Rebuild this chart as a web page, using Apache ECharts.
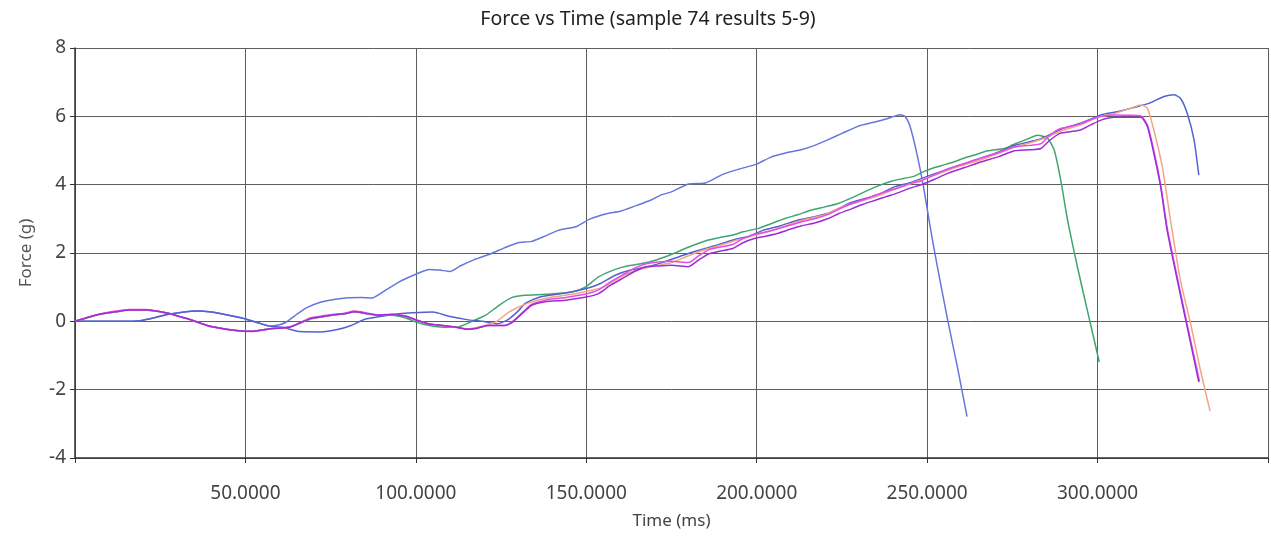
<!DOCTYPE html>
<html>
<head>
<meta charset="utf-8">
<script src="https://cdn.jsdelivr.net/npm/echarts@6/dist/echarts.min.js"></script>
<style>html,body{margin:0;padding:0;background:#fff;}#c{width:1271px;height:536px;}</style>
</head>
<body>
<div id="c"></div>
<script>
const titleText = 'Force vs Time (sample 74 results 5-9)';
const xName = 'Time (ms)';
const yName = 'Force (g)';
const xTicks = [0, 350, 50];
const yTicks = [-4, 8, 2];

const blueA = [[0,0],[5,0],[10,0],[15,0],[19,0.02],[23,0.1],[27,0.2],[31,0.26],[36,0.3],[40,0.27],[44,0.2],[49,0.1],[53,-0.02],[57,-0.14],[60,-0.1],[62,-0.02],[65,0.2],[68,0.4],[72,0.56],[76,0.64],[80,0.69],[84,0.7],[87,0.68],[90,0.84],[95,1.15],[100,1.38],[104,1.52],[107,1.5],[110,1.46],[113,1.62],[117,1.8],[122,1.98],[126,2.15],[130,2.3],[134,2.34],[138,2.5],[142,2.67],[147,2.77],[151,2.99],[156,3.15],[160,3.22],[165,3.4],[169,3.55],[172,3.7],[175,3.79],[180,4.02],[185,4.05],[190,4.3],[195,4.46],[200,4.6],[204,4.8],[209,4.94],[213,5.02],[217,5.15],[221,5.32],[225,5.5],[230,5.72],[234,5.82],[238,5.92],[242,6.05],[243.5,6.0],[245,5.7],[247,4.9],[249,3.9],[251,2.7],[253,1.6],[256,0.05],[259,-1.4],[261.7,-2.79]];

const green = [[0,0],[4,0.12],[8,0.22],[12,0.28],[16,0.33],[21,0.33],[25,0.28],[28,0.22],[31,0.13],[34,0.05],[37,-0.06],[40,-0.15],[45,-0.24],[49,-0.28],[52,-0.29],[55,-0.25],[58,-0.21],[63,-0.17],[66,-0.05],[69,0.06],[72,0.12],[75,0.17],[79,0.22],[82,0.27],[86,0.22],[89,0.17],[93,0.18],[97,0.1],[100,-0.02],[104,-0.12],[108,-0.17],[112,-0.17],[116.5,0.0],[120.5,0.18],[124.4,0.47],[128.3,0.7],[132,0.76],[138,0.79],[145.8,0.86],[149.7,1.0],[153.6,1.3],[158.5,1.52],[162,1.62],[166.3,1.69],[170,1.78],[173.2,1.89],[176,2.0],[179,2.13],[182,2.25],[185.8,2.38],[189,2.45],[192.7,2.52],[196,2.62],[200.5,2.72],[204,2.85],[208.3,3.01],[212,3.12],[216.1,3.26],[220,3.35],[223.9,3.45],[228,3.62],[232.7,3.84],[236,3.98],[239.5,4.1],[243,4.18],[246.3,4.25],[249,4.38],[252.2,4.5],[255,4.58],[258,4.67],[261,4.78],[263.9,4.87],[267.8,4.99],[272.7,5.06],[275,5.16],[277.5,5.26],[280,5.36],[282.4,5.45],[285.3,5.36],[287.3,5.01],[289.2,4.13],[291.2,2.96],[294.1,1.59],[297,0.32],[300.5,-1.19]];

const blueB = [[0,0],[5,0],[10,0],[15,0],[19,0.02],[23,0.1],[27,0.2],[31,0.26],[36,0.3],[40,0.27],[44,0.2],[49,0.1],[53,-0.02],[57,-0.14],[61,-0.18],[66,-0.3],[72,-0.31],[77,-0.24],[81,-0.12],[85,0.06],[90,0.15],[95,0.22],[99,0.25],[105,0.27],[110,0.14],[115,0.05],[119.5,0],[124,-0.07],[127,0.05],[130,0.3],[132,0.52],[136,0.7],[142,0.8],[147,0.89],[150,0.96],[154,1.1],[158.5,1.35],[163,1.5],[168,1.6],[173,1.74],[178,1.92],[183,2.08],[188,2.22],[193,2.38],[198,2.5],[202,2.67],[207,2.8],[212,2.96],[217,3.06],[222,3.2],[227,3.45],[232,3.6],[236,3.72],[240,3.92],[245,4.06],[251,4.28],[257,4.48],[264,4.72],[270,4.92],[276,5.16],[283,5.33],[290,5.65],[295,5.8],[301,6.04],[305,6.12],[310,6.24],[315,6.38],[319.5,6.58],[322.4,6.63],[324.3,6.53],[326.3,6.09],[328.3,5.31],[329.7,4.28]];

const orange = [[0,0],[4,0.12],[8,0.22],[12,0.28],[16,0.33],[21,0.33],[25,0.28],[28,0.22],[31,0.13],[34,0.05],[37,-0.06],[40,-0.15],[45,-0.24],[49,-0.28],[52,-0.29],[55,-0.25],[58,-0.21],[63,-0.17],[66,-0.05],[69,0.08],[72,0.13],[75,0.18],[79,0.22],[82,0.28],[86,0.22],[89,0.18],[93,0.2],[97,0.15],[100,0.04],[104,-0.08],[108,-0.12],[112,-0.17],[115,-0.22],[118,-0.18],[121,-0.1],[123.4,-0.02],[127.3,0.27],[130.2,0.42],[134,0.57],[140,0.71],[146.8,0.81],[151.6,0.91],[155,1.0],[157.5,1.15],[161,1.35],[165,1.5],[170,1.62],[175,1.72],[180,1.92],[185,2.1],[190,2.25],[195,2.4],[200,2.53],[205,2.68],[210,2.85],[215,3.0],[220,3.12],[225,3.35],[230,3.5],[235,3.65],[240,3.85],[245,4.02],[250,4.2],[255,4.38],[260,4.55],[265,4.7],[270,4.88],[275,5.08],[280,5.22],[285,5.38],[290,5.6],[295,5.75],[300,5.97],[305,6.08],[309.7,6.24],[312.7,6.33],[314.6,6.24],[316.5,5.6],[319,4.52],[321.4,2.96],[324.3,1.2],[327.3,-0.07],[330.2,-1.44],[333,-2.63]];

const pink = [[0,0],[4,0.13],[8,0.23],[12,0.3],[16,0.35],[21,0.35],[25,0.29],[28,0.22],[31,0.13],[34,0.04],[37,-0.07],[40,-0.16],[45,-0.25],[49,-0.29],[52,-0.3],[55,-0.26],[58,-0.21],[63,-0.16],[66,-0.04],[69,0.1],[72,0.15],[75,0.19],[79,0.24],[82,0.3],[86,0.24],[89,0.19],[93,0.21],[97,0.16],[100,0.05],[104,-0.08],[108,-0.13],[112,-0.18],[115,-0.23],[118,-0.2],[121,-0.12],[126,-0.12],[128,-0.03],[130,0.14],[132,0.33],[134,0.5],[138,0.62],[144,0.7],[150,0.8],[153.6,0.92],[157,1.15],[161.4,1.4],[164,1.55],[167.3,1.68],[171,1.74],[175,1.76],[180,1.72],[183,1.92],[186,2.1],[189,2.17],[193,2.25],[196,2.42],[199.5,2.55],[203,2.62],[206,2.7],[210,2.82],[213,2.91],[217,3.0],[221,3.13],[224,3.28],[228,3.45],[231,3.55],[235,3.7],[238,3.8],[241.4,3.9],[245,4.03],[248,4.1],[252,4.28],[256,4.46],[261,4.62],[266,4.78],[271,4.94],[275.6,5.1],[280,5.15],[283.4,5.2],[286,5.45],[289,5.64],[292,5.7],[295,5.78],[298,5.9],[301,6.0],[305,6.04],[309,6.03],[312.7,6.01],[314.6,5.75],[316.5,5.0],[318.5,4.0],[320.4,2.75],[323.4,1.28],[326.3,-0.1],[329.9,-1.75]];

const purple = [[0,0],[4,0.12],[8,0.22],[12,0.28],[16,0.33],[21,0.33],[25,0.28],[28,0.22],[31,0.13],[34,0.05],[37,-0.06],[40,-0.15],[45,-0.24],[49,-0.28],[52,-0.29],[55,-0.25],[58,-0.21],[63,-0.17],[66,-0.05],[69,0.08],[72,0.13],[75,0.18],[79,0.22],[82,0.28],[86,0.22],[89,0.18],[93,0.2],[97,0.15],[100,0.04],[104,-0.08],[108,-0.12],[112,-0.17],[115,-0.23],[118,-0.2],[121,-0.12],[126,-0.12],[128,-0.05],[130,0.12],[132,0.3],[134,0.47],[138,0.57],[144,0.62],[150,0.71],[153.6,0.81],[157,1.05],[161.4,1.3],[164,1.45],[167.3,1.59],[171,1.62],[175,1.64],[180,1.6],[183,1.8],[186,1.98],[189,2.05],[193,2.13],[196,2.3],[199.5,2.43],[203,2.5],[206,2.57],[210,2.7],[213,2.79],[217,2.88],[221,3.01],[224,3.15],[228,3.3],[231,3.42],[235,3.55],[238,3.65],[241.4,3.76],[245,3.9],[248,3.99],[252,4.15],[256,4.33],[261,4.5],[266,4.67],[271,4.82],[275.6,4.99],[280,5.02],[283.4,5.06],[286,5.3],[289,5.5],[292,5.55],[295,5.6],[298,5.75],[301,5.89],[305,5.97],[309,5.97],[312.7,5.97],[314.6,5.7],[316.5,4.92],[318.5,3.94],[320.4,2.67],[323.4,1.2],[326.3,-0.17],[329.7,-1.78]];

const seriesData = [blueA, green, blueB, orange, pink, purple];
const seriesColors = ['#6576dc', '#3fa56e', '#5262cf', '#f2a584', '#e84ce8', '#9b2fd6'];

const chart = echarts.init(document.getElementById('c'), null, {renderer: 'canvas'});
const FONT = 'Noto Sans';
chart.setOption({
  animation: false,
  backgroundColor: '#ffffff',
  title: {
    text: titleText, left: 643, top: 4, textAlign: 'center',
    textStyle: {fontFamily: FONT, fontSize: 19.5, fontWeight: 'normal', color: '#222'}
  },
  grid: {left: 75, right: 1, top: 48, bottom: 78, containLabel: false},
  xAxis: {
    type: 'value', min: xTicks[0], max: xTicks[1], interval: xTicks[2],
    name: xName, nameLocation: 'middle', nameGap: 55,
    nameTextStyle: {fontFamily: FONT, fontSize: 17, color: '#444'},
    axisLine: {show: true, onZero: false, lineStyle: {color: '#333', width: 1.5}},
    axisTick: {show: true, length: 5, lineStyle: {color: '#333'}},
    axisLabel: {fontFamily: FONT, fontSize: 19, color: '#444', margin: 26,
      formatter: v => (v > 0 && v < 350) ? v.toFixed(4) : ''},
    splitLine: {show: true, lineStyle: {color: '#5e5e5e', width: 1}}
  },
  yAxis: {
    type: 'value', min: yTicks[0], max: yTicks[1], interval: yTicks[2],
    name: yName, nameLocation: 'middle', nameGap: 40,
    nameTextStyle: {fontFamily: FONT, fontSize: 17, color: '#555'},
    axisLine: {show: true, onZero: false, lineStyle: {color: '#333', width: 1.5}},
    axisTick: {show: true, length: 5, lineStyle: {color: '#333'}},
    axisLabel: {fontFamily: FONT, fontSize: 19, color: '#444', margin: 9},
    splitLine: {show: true, lineStyle: {color: '#5e5e5e', width: 1}}
  },
  series: seriesData.map((d, i) => ({
    type: 'line', data: d, showSymbol: false, symbol: 'none',
    smooth: 0.2,
    lineStyle: {color: seriesColors[i], width: 1.5},
    itemStyle: {color: seriesColors[i]}
  }))
});
</script>
</body>
</html>
